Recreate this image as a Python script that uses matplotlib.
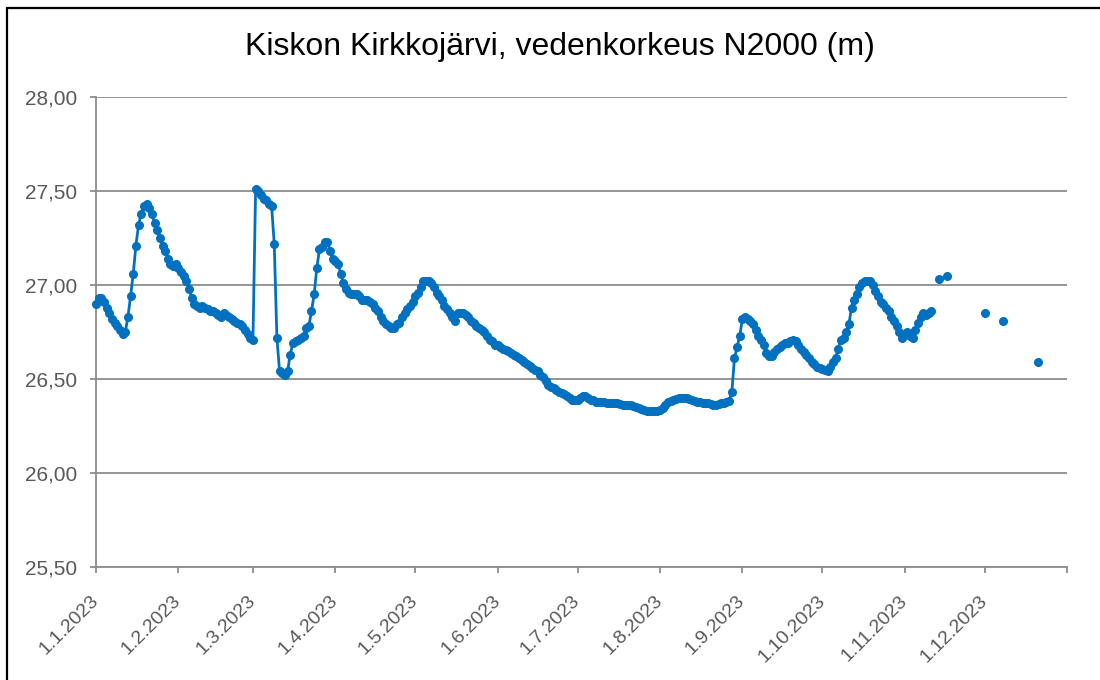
import numpy as np
import pandas as pd
import matplotlib
matplotlib.use("Agg")
from matplotlib import pyplot as plt
from matplotlib.patches import Rectangle

plt.rcParams['font.family'] = ['Liberation Sans', 'DejaVu Sans']

title = "Kiskon Kirkkojärvi, vedenkorkeus N2000 (m)"

# daily water level readings (m, N2000), one list per month, nan = no reading
jan = [26.90, 26.93, 26.93, 26.91, 26.88, 26.85, 26.82, 26.80, 26.78, 26.76,
       26.74, 26.75, 26.83, 26.94, 27.06, 27.21, 27.32, 27.38, 27.42, 27.43,
       27.41, 27.38, 27.33, 27.29, 27.25, 27.21, 27.18, 27.14, 27.11, 27.10,
       27.11]
feb = [27.09, 27.07, 27.05, 27.02, 26.98, 26.93, 26.90, 26.89, 26.88, 26.89,
       26.88, 26.87, 26.86, 26.86, 26.85, 26.84, 26.83, 26.85, 26.84, 26.83,
       26.82, 26.81, 26.80, 26.79, 26.78, 26.76, 26.74, 26.72]
mar = [26.71, 27.51, 27.50, 27.48, 27.46, 27.45, 27.43, 27.42, 27.22, 26.72,
       26.54, 26.53, 26.52, 26.54, 26.63, 26.69, 26.70, 26.71, 26.72, 26.73,
       26.77, 26.78, 26.86, 26.95, 27.09, 27.19, 27.20, 27.23, 27.23, 27.18,
       27.14]
apr = [27.13, 27.11, 27.06, 27.01, 26.98, 26.96, 26.95, 26.95, 26.95, 26.94,
       26.92, 26.92, 26.92, 26.91, 26.90, 26.88, 26.86, 26.83, 26.81, 26.79,
       26.78, 26.77, 26.77, 26.79, 26.80, 26.83, 26.85, 26.87, 26.89, 26.91]
may = [26.94, 26.96, 26.99, 27.02, 27.02, 27.02, 27.01, 26.99, 26.96, 26.94,
       26.92, 26.89, 26.87, 26.85, 26.83, 26.81, 26.85, 26.85, 26.85, 26.84,
       26.83, 26.81, 26.80, 26.78, 26.77, 26.76, 26.75, 26.73, 26.71, 26.70,
       26.68]
jun = [26.68, 26.67, 26.66, 26.655, 26.65, 26.64, 26.63, 26.62, 26.61, 26.60,
       26.59, 26.58, 26.57, 26.56, 26.55, 26.54, 26.52, 26.51, 26.49, 26.47,
       26.46, 26.45, 26.44, 26.43, 26.425, 26.42, 26.41, 26.40, 26.39, 26.39]
jul = [26.39, 26.40, 26.41, 26.41, 26.40, 26.39, 26.39, 26.38, 26.38, 26.38,
       26.38, 26.375, 26.37, 26.37, 26.37, 26.37, 26.365, 26.36, 26.36, 26.36,
       26.36, 26.355, 26.35, 26.345, 26.34, 26.335, 26.33, 26.33, 26.33, 26.33,
       26.33]
aug = [26.335, 26.345, 26.36, 26.38, 26.385, 26.39, 26.395, 26.40, 26.40, 26.40,
       26.40, 26.395, 26.39, 26.385, 26.38, 26.38, 26.375, 26.375, 26.37, 26.365,
       26.36, 26.36, 26.365, 26.37, 26.375, 26.38, 26.385, 26.43, 26.61, 26.67,
       26.73]
sep = [26.82, 26.83, 26.82, 26.81, 26.79, 26.76, 26.73, 26.71, 26.68, 26.64,
       26.62, 26.62, 26.645, 26.66, 26.67, 26.68, 26.69, 26.69, 26.70, 26.71,
       26.70, 26.68, 26.66, 26.645, 26.63, 26.61, 26.59, 26.58, 26.565, 26.56]
okt = [26.555, 26.55, 26.545, 26.565, 26.59, 26.61, 26.66, 26.71, 26.72, 26.75,
       26.79, 26.88, 26.92, 26.95, 26.99, 27.01, 27.02, 27.02, 27.02, 27.00,
       26.97, 26.94, 26.91, 26.90, 26.88, 26.86, 26.83, 26.81, 26.78, 26.75,
       26.72]
nan = np.nan
nov = [26.74, 26.75, 26.73, 26.72, 26.76, 26.80, 26.83, 26.85, 26.84, 26.85,
       26.86, nan, nan, 27.03, nan, nan, 27.05, nan, nan, nan,
       nan, nan, nan, nan, nan, nan, nan, nan, nan, nan]
dec = [26.85, nan, nan, nan, nan, nan, nan, 26.81, nan, nan,
       nan, nan, nan, nan, nan, nan, nan, nan, nan, nan,
       26.59, nan, nan, nan, nan, nan, nan, nan, nan, nan,
       nan]

levels = jan + feb + mar + apr + may + jun + jul + aug + sep + okt + nov + dec
dates = pd.date_range("2023-01-01", periods=len(levels), freq="D")
month_ticks = pd.date_range("2023-01-01", "2024-01-01", freq="MS")
month_labels = [f"{d.day}.{d.month}.{d.year}" for d in month_ticks[:-1]] + [""]

y_ticks = [25.5, 26.0, 26.5, 27.0, 27.5, 28.0]

fig = plt.figure(figsize=(11, 6.8), dpi=100)
ax = fig.add_axes([96 / 1100, 1 - 567 / 680, (1067 - 96) / 1100, (567 - 97) / 680])

blue = "#0070C0"
grey = "#8C8C8C"
ax.plot(dates, levels, color=blue, lw=2.0, marker="o", ms=5.5, mec=blue, mfc=blue,
        zorder=3, clip_on=False)

ax.set_xlim(month_ticks[0], month_ticks[-1])
ax.set_ylim(25.5, 28.0)
ax.set_yticks(y_ticks)
ax.set_yticklabels([f"{v:.2f}".replace(".", ",") for v in y_ticks])
ax.set_xticks(month_ticks)
ax.set_xticklabels(month_labels, rotation=45, ha="right", va="center",
                   rotation_mode="anchor")

ax.grid(axis="y", color=grey, lw=1.3)
ax.set_axisbelow(True)
for s in ["top", "right"]:
    ax.spines[s].set_visible(False)
for s in ["left", "bottom"]:
    ax.spines[s].set_color(grey)
    ax.spines[s].set_linewidth(1.3)
ax.tick_params(axis="both", colors=grey, labelcolor="#595959", labelsize=15,
               length=4.5, width=1.3)
ax.tick_params(axis="y", pad=9)
ax.tick_params(axis="x", pad=18, labelsize=14)

fig.text(560 / 1100, 1 - 47 / 680, title, ha="center", va="center", fontsize=23,
         color="black")

fig.patches.append(Rectangle((7 / 1100, -0.05), 1.2, (680 - 8) / 680 + 0.05,
                             transform=fig.transFigure, fill=False,
                             ec="black", lw=1.6))

fig.savefig("out.png", dpi=100)
